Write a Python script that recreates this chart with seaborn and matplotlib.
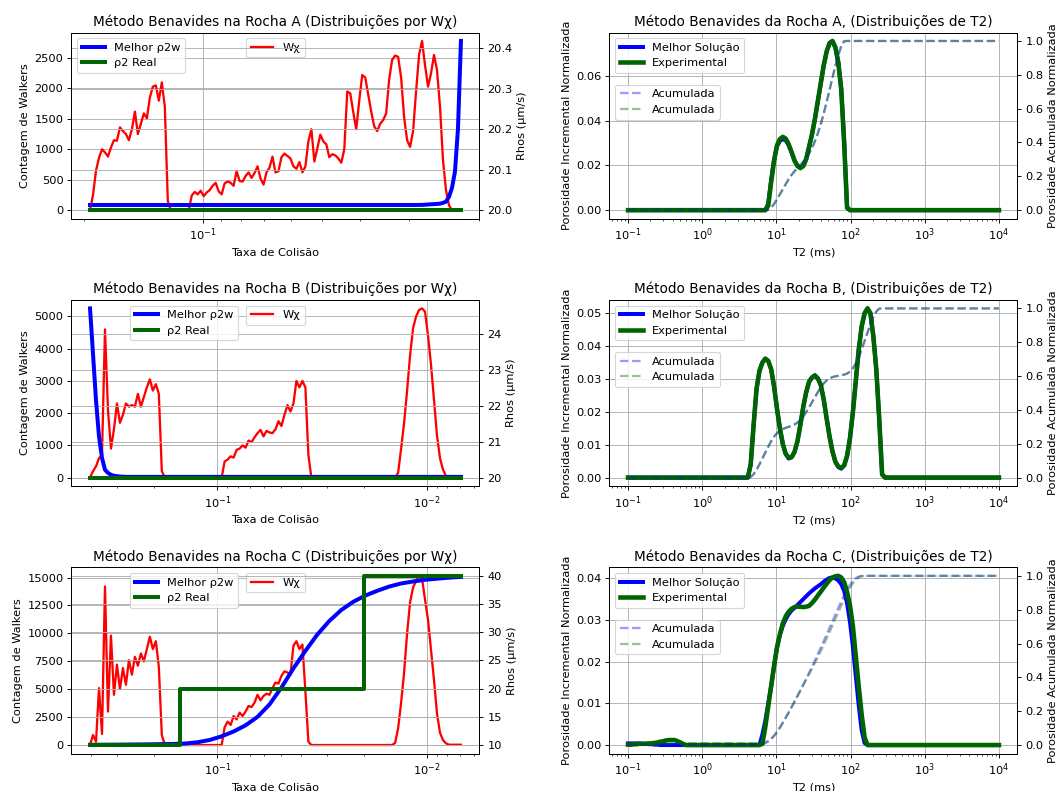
import numpy as np
import matplotlib
matplotlib.use("Agg")
import matplotlib.pyplot as plt
import seaborn as sns
from matplotlib.ticker import NullFormatter

# ---------------------------------------------------------------
# Distribuições por Wχ (taxa de colisão, eixo log invertido)
# ---------------------------------------------------------------
taxa_a = np.geomspace(0.1935, 0.0222, 125)
taxa_bc = np.geomspace(0.405, 0.0069, 125)

walkers_a = [
    0, 250, 650, 860, 1000, 950, 880, 1030, 1150, 1140, 1360, 1300, 1250, 1150,
    1330, 1620, 1250, 1420, 1590, 1510, 1850, 2030, 2050, 1800, 2100, 1700, 150,
    0, 0, 0, 0, 0, 0, 0,
    240, 300, 260, 320, 230, 290, 330, 400, 450, 310, 260, 440, 470, 450, 400,
    640, 480, 470, 560, 620, 530, 610, 720, 520, 420, 620, 700, 880, 620, 640,
    870, 930, 890, 850, 720, 680, 790, 620, 720, 1130, 1330, 800, 1020, 1240,
    1130, 1080, 870, 920, 900, 850, 780, 1000, 1950, 1920, 1610, 1330, 1800,
    2220, 2180, 1900, 1620, 1380, 1300, 1420, 1480, 1590, 2150, 2470, 2540,
    2520, 2180, 1530, 1150, 1040, 1300, 1950, 2550, 2780, 2380, 2030, 2250,
    2550, 2300, 1700, 820, 330, 80,
    0, 0, 0, 0,
]
walkers_b = [
    0, 200, 350, 600, 700, 4600, 2100, 900, 1500, 2300, 1700, 1950, 2300, 2200,
    2250, 2200, 2600, 2200, 2500, 2800, 3050, 2700, 2900, 2600, 200,
] + [0] * 20 + [
    500, 560, 660, 620, 860, 900, 1000, 930, 1150, 1100, 1250, 1380, 1480, 1280,
    1450, 1400, 1380, 1500, 1750, 1600, 1950, 2250, 2050, 2300, 3000, 2800,
    3000, 2800, 700,
] + [0] * 29 + [
    150, 900, 1700, 2700, 3800, 4640, 5000, 5200, 5250, 5150, 4400, 3500, 2400,
    1300, 600, 250, 40,
] + [0] * 5
walkers_c = [
    0, 900, 300, 5100, 1000, 14200, 3000, 9800, 4500, 7200, 5000, 6900, 5400,
    7600, 6300, 7900, 7100, 8200, 7500, 8600, 9700, 8600, 9300, 7000, 900,
] + [0] * 20 + [
    1600, 2100, 1800, 2600, 2300, 2900, 2600, 3000, 3500, 3400, 3800, 4500, 4000,
    4400, 4600, 4500, 5100, 5600, 5500, 6200, 6600, 6500, 6300, 8900, 9300,
    8600, 9000, 4800, 300,
] + [0] * 28 + [
    200, 1500, 3800, 6500, 10000, 12800, 14100, 14700, 15150, 14900, 13000,
    11200, 8500, 5800, 2800, 1100, 450, 150,
] + [30] * 5

rho_best_a = [20.0128] * 110 + [
    20.013, 20.013, 20.0135, 20.014, 20.0145, 20.015, 20.0155, 20.016, 20.018,
    20.021, 20.033, 20.055, 20.095, 20.2, 20.418,
]
rho_best_b = [
    24.72, 23.45, 22.15, 21.15, 20.55, 20.22, 20.13, 20.08, 20.05, 20.04,
    20.03, 20.025,
] + [20.02] * 113
taxa_c_best = taxa_bc[::4]
rho_best_c = [
    10.05, 10.06, 10.07, 10.09, 10.11, 10.13, 10.16, 10.2, 10.28, 10.5, 10.9,
    11.55, 12.4, 13.5, 15.0, 17.2, 20.2, 23.6, 26.7, 29.6, 32.0, 33.95, 35.4,
    36.5, 37.35, 38.1, 38.65, 39.0, 39.3, 39.5, 39.68, 39.82,
]

taxa_real_a = [0.1935, 0.0222]
rho_real_a = [20.0, 20.0]
taxa_real_b = [0.405, 0.0069]
rho_real_b = [20.0, 20.0]
taxa_real_c = [0.405, 0.15, 0.15, 0.02, 0.02, 0.0069]
rho_real_c = [10, 10, 20, 20, 40, 40]

# ---------------------------------------------------------------
# Distribuições de T2 (128 bins logarítmicos)
# ---------------------------------------------------------------
t2 = np.logspace(-1, 4, 128)

exp_a = [0.0] * 48 + [
    0.002, 0.0125, 0.022, 0.029, 0.0318, 0.0328, 0.032, 0.0295, 0.026, 0.0222,
    0.0198, 0.0188, 0.0197, 0.0228, 0.0285, 0.034, 0.041, 0.049, 0.057, 0.0648,
    0.071, 0.0748, 0.0757, 0.0728, 0.066, 0.054, 0.030, 0.001,
] + [0.0] * 52
sol_a = [0.0] * 48 + [
    0.003, 0.0135, 0.0225, 0.0285, 0.031, 0.0318, 0.0312, 0.029, 0.0258, 0.0222,
    0.0199, 0.019, 0.02, 0.0229, 0.0284, 0.0338, 0.0408, 0.0488, 0.0568, 0.0646,
    0.0708, 0.0746, 0.0755, 0.0727, 0.0662, 0.0545, 0.031, 0.0015,
] + [0.0] * 52

exp_b = [0.0] * 42 + [
    0.004, 0.016, 0.027, 0.0325, 0.035, 0.0362, 0.0355, 0.033, 0.0278, 0.021,
    0.015, 0.0102, 0.0072, 0.0061, 0.0062, 0.0078, 0.011, 0.016, 0.0215, 0.026,
    0.0292, 0.0305, 0.031, 0.0302, 0.0282, 0.0238, 0.018, 0.0125, 0.008, 0.0048,
    0.0034, 0.003, 0.0037, 0.0066, 0.012, 0.020, 0.0295, 0.039, 0.046, 0.050,
    0.0515, 0.050, 0.043, 0.033, 0.018, 0.001,
] + [0.0] * 40
sol_b = [0.0] * 42 + [
    0.004, 0.016, 0.027, 0.0325, 0.035, 0.0362, 0.0355, 0.033, 0.0278, 0.021,
    0.015, 0.0102, 0.0072, 0.0058, 0.0062, 0.0078, 0.011, 0.016, 0.0215, 0.026,
    0.0292, 0.0305, 0.0312, 0.0302, 0.0282, 0.0238, 0.018, 0.0125, 0.008, 0.0048,
    0.0032, 0.0027, 0.0037, 0.0066, 0.012, 0.020, 0.0295, 0.039, 0.046, 0.050,
    0.0515, 0.050, 0.043, 0.033, 0.018, 0.001,
] + [0.0] * 40

exp_c = [
    0.0001, 0.0001, 0.0002, 0.0002, 0.0003, 0.0003, 0.0003, 0.0004, 0.0004,
    0.0005, 0.0006, 0.0008, 0.0009, 0.0011, 0.0012, 0.0012, 0.0012, 0.0009,
    0.0006, 0.0002, 0.0,
] + [0.0] * 25 + [
    0.0003, 0.0043, 0.0093, 0.0142, 0.019, 0.0234, 0.0266, 0.0292, 0.0309,
    0.032, 0.0327, 0.0331, 0.0332, 0.0332, 0.0331, 0.0332, 0.0334, 0.0341,
    0.0349, 0.0359, 0.0368, 0.0378, 0.0387, 0.0396, 0.0402, 0.0405, 0.0406,
    0.0402, 0.0391, 0.0368, 0.0335, 0.0285, 0.0213, 0.014, 0.0073, 0.0018,
] + [0.0] * 46
sol_c = [
    0.0004, 0.0004, 0.0004, 0.0004, 0.0004, 0.0003, 0.0003, 0.0002, 0.0002,
    0.0001, 0.0001,
] + [0.0] * 35 + [
    0.0025, 0.0058, 0.010, 0.014, 0.0188, 0.0234, 0.0264, 0.0286, 0.0302,
    0.0314, 0.0323, 0.0329, 0.0336, 0.0343, 0.035, 0.0357, 0.0364, 0.037,
    0.0376, 0.0381, 0.0386, 0.0392, 0.0397, 0.0401, 0.0402, 0.04, 0.0395,
    0.0386, 0.037, 0.034, 0.0295, 0.0235, 0.0165, 0.0095, 0.0035, 0.0005,
] + [0.0] * 46

rochas = ["A", "B", "C"]
walkers = [walkers_a, walkers_b, walkers_c]
taxas = [taxa_a, taxa_bc, taxa_bc]
rho_best = [(taxa_a, rho_best_a), (taxa_bc, rho_best_b), (taxa_c_best, rho_best_c)]
rho_real = [(taxa_real_a, rho_real_a), (taxa_real_b, rho_real_b), (taxa_real_c, rho_real_c)]
solucoes = [sol_a, sol_b, sol_c]
experimentais = [exp_a, exp_b, exp_c]

DPI = 82
fig, axes = plt.subplots(3, 2, figsize=(1059 / DPI, 791 / DPI), dpi=DPI)
fig.subplots_adjust(left=0.0675, right=0.9608, top=0.9589, bottom=0.0474,
                    wspace=0.3186, hspace=0.437)

line_kw = dict(sort=False, estimator=None, errorbar=None)

for k, rocha in enumerate(rochas):
    # --- painel esquerdo: Wχ e ρ2 ---
    ax = axes[k, 0]
    ax.set_xscale("log")
    ax2 = ax.twinx()
    sns.lineplot(x=taxas[k], y=walkers[k], ax=ax, color="red", lw=2,
                 label="Wχ", **line_kw)
    sns.lineplot(x=rho_best[k][0], y=rho_best[k][1], ax=ax2, color="blue",
                 lw=3.5, label="Melhor ρ2w", **line_kw)
    sns.lineplot(x=rho_real[k][0], y=rho_real[k][1], ax=ax2, color="darkgreen",
                 lw=3.5, label="ρ2 Real", **line_kw)
    ax.invert_xaxis()
    ax.xaxis.set_minor_formatter(NullFormatter())
    ax.grid(True)
    ax2.grid(True)
    ax.set_title(f"Método Benavides na Rocha {rocha} (Distribuições por Wχ)")
    ax.set_xlabel("Taxa de Colisão")
    ax.set_ylabel("Contagem de Walkers")
    ax2.set_ylabel("Rhos (µm/s)")
    ax.legend(loc="upper center")
    if k == 0:
        ax2.legend(loc="upper left")
    else:
        ax2.legend(loc="upper left", bbox_to_anchor=(0.13, 1.0))

    # --- painel direito: distribuições de T2 ---
    bx = axes[k, 1]
    bx.set_xscale("log")
    bx2 = bx.twinx()
    sol = np.array(solucoes[k])
    exp = np.array(experimentais[k])
    sns.lineplot(x=t2, y=sol, ax=bx, color="blue", lw=3.5,
                 label="Melhor Solução", **line_kw)
    sns.lineplot(x=t2, y=exp, ax=bx, color="darkgreen", lw=4,
                 label="Experimental", **line_kw)
    sns.lineplot(x=t2, y=np.cumsum(sol) / sol.sum(), ax=bx2, color="blue",
                 alpha=0.4, lw=2, ls="--", label="Acumulada", **line_kw)
    sns.lineplot(x=t2, y=np.cumsum(exp) / exp.sum(), ax=bx2, color="darkgreen",
                 alpha=0.4, lw=2, ls="--", label="Acumulada", **line_kw)
    bx.grid(True)
    bx.set_title(f"Método Benavides da Rocha {rocha}, (Distribuições de T2)")
    bx.set_xlabel("T2 (ms)")
    bx.set_ylabel("Porosidade Incremental Normalizada")
    bx2.set_ylabel("Porosidade Acumulada Normalizada")
    bx.legend(loc="upper left")
    bx2.legend(loc="upper left", bbox_to_anchor=(0.0, 0.75))

fig.savefig("out.png", dpi=DPI)
